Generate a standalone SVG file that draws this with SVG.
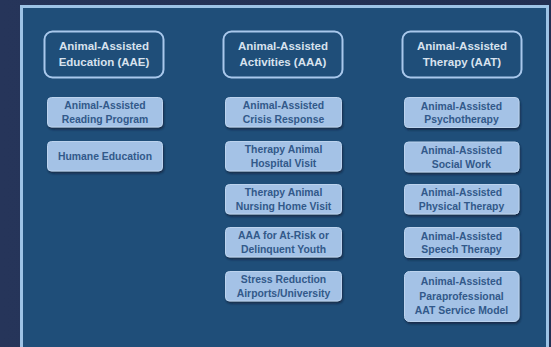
<svg xmlns="http://www.w3.org/2000/svg" width="551" height="347" viewBox="0 0 551 347">
<defs>
<filter id="sh" x="-10%" y="-20%" width="130%" height="150%">
<feDropShadow dx="1" dy="2" stdDeviation="1.2" flood-color="#0b1e33" flood-opacity="0.7"/>
</filter>
<linearGradient id="bg" x1="0" y1="0" x2="1" y2="0">
<stop offset="0" stop-color="#26355a"/>
<stop offset="1" stop-color="#222f52"/>
</linearGradient>
</defs>
<style>
.hdr{fill:#1f4e79;stroke:#a9c8ec;stroke-width:2}
.ht{font-family:"Liberation Sans",Arial,sans-serif;font-weight:bold;font-size:11.5px;fill:#d8e2ee;text-anchor:middle}
.sub{fill:#a4c2e6;stroke:#bcd3ee;stroke-width:1;filter:url(#sh)}
.st{font-family:"Liberation Sans",Arial,sans-serif;font-weight:bold;font-size:10.4px;fill:#32598a;text-anchor:middle}
</style>
<rect x="0" y="0" width="551" height="347" fill="url(#bg)"/>
<rect x="21.5" y="6.5" width="526" height="360" fill="#1f4e79" stroke="#9dc3e6" stroke-width="3"/>
<g id="connectors"/>
<g id="hdr-aae"><rect class="hdr" x="44.5" y="31.5" width="119" height="46" rx="8"/><text class="ht" x="104" y="50">Animal-Assisted</text><text class="ht" x="104" y="66">Education (AAE)</text></g>
<g id="hdr-aaa"><rect class="hdr" x="223.5" y="31.5" width="119" height="46" rx="8"/><text class="ht" x="283" y="50">Animal-Assisted</text><text class="ht" x="283" y="66">Activities (AAA)</text></g>
<g id="hdr-aat"><rect class="hdr" x="402.5" y="31.5" width="119" height="46" rx="8"/><text class="ht" x="462" y="50">Animal-Assisted</text><text class="ht" x="462" y="66">Therapy (AAT)</text></g>

<g id="aae-1"><rect class="sub" x="47.5" y="97.5" width="115" height="29.5" rx="4"/><text class="st" x="105" y="109">Animal-Assisted</text><text class="st" x="105" y="122.5">Reading Program</text></g>
<g id="aae-2"><rect class="sub" x="47.5" y="141.5" width="115" height="29.5" rx="4"/><text class="st" x="105" y="160">Humane Education</text></g>

<g id="aaa-1"><rect class="sub" x="225.5" y="97.5" width="116" height="29.5" rx="4"/><text class="st" x="283.5" y="109">Animal-Assisted</text><text class="st" x="283.5" y="122.5">Crisis Response</text></g>
<g id="aaa-2"><rect class="sub" x="225.5" y="141.5" width="116" height="29.5" rx="4"/><text class="st" x="283.5" y="153">Therapy Animal</text><text class="st" x="283.5" y="166.5">Hospital Visit</text></g>
<g id="aaa-3"><rect class="sub" x="225.5" y="184.5" width="116" height="29.5" rx="4"/><text class="st" x="283.5" y="196">Therapy Animal</text><text class="st" x="283.5" y="209.5">Nursing Home Visit</text></g>
<g id="aaa-4"><rect class="sub" x="225.5" y="227.5" width="116" height="29.5" rx="4"/><text class="st" x="283.5" y="239">AAA for At-Risk or</text><text class="st" x="283.5" y="252.5">Delinquent Youth</text></g>
<g id="aaa-5"><rect class="sub" x="225.5" y="271.5" width="116" height="29.5" rx="4"/><text class="st" x="283.5" y="283">Stress Reduction</text><text class="st" x="283.5" y="296.5">Airports/University</text></g>

<g id="aat-1"><rect class="sub" x="404.5" y="97.5" width="114.5" height="30" rx="4"/><text class="st" x="461.5" y="109.5">Animal-Assisted</text><text class="st" x="461.5" y="123">Psychotherapy</text></g>
<g id="aat-2"><rect class="sub" x="404.5" y="142" width="114.5" height="30" rx="4"/><text class="st" x="461.5" y="154">Animal-Assisted</text><text class="st" x="461.5" y="167.5">Social Work</text></g>
<g id="aat-3"><rect class="sub" x="404.5" y="184.5" width="114.5" height="29.5" rx="4"/><text class="st" x="461.5" y="196">Animal-Assisted</text><text class="st" x="461.5" y="209.5">Physical Therapy</text></g>
<g id="aat-4"><rect class="sub" x="404.5" y="227.5" width="114.5" height="30" rx="4"/><text class="st" x="461.5" y="239.5">Animal-Assisted</text><text class="st" x="461.5" y="253">Speech Therapy</text></g>
<g id="aat-5"><rect class="sub" x="404.5" y="271.5" width="114.5" height="50" rx="5"/><text class="st" x="461.5" y="285">Animal-Assisted</text><text class="st" x="461.5" y="299.5">Paraprofessional</text><text class="st" x="461.5" y="314">AAT Service Model</text></g>
</svg>
